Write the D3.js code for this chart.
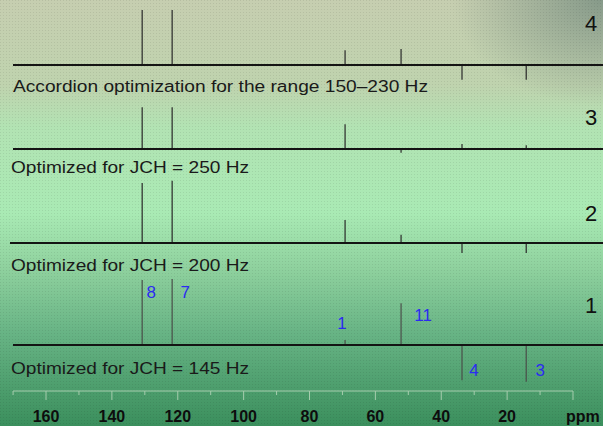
<!DOCTYPE html>
<html>
<head>
<meta charset="utf-8">
<script src="https://cdn.jsdelivr.net/npm/d3@7"></script>
<style>
  html, body { margin: 0; padding: 0; background: #9fd9a8; }
  svg { display: block; }
</style>
</head>
<body>
<div id="chart"></div>
<script>
// peak positions (ppm) and their assignment labels
const peakPpm = [130.8, 121.7, 69.2, 52.2, 33.7, 14.2];
const peakLabels = ["8", "7", "1", "11", "4", "3"];

// relative intensities per spectrum, same order as peakPpm
const spectrumIds = ["4", "3", "2", "1"];
const intensity4 = [1.0, 1.0, 0.27, 0.29, -0.27, -0.27];
const intensity3 = [0.76, 0.76, 0.45, -0.07, 0.09, 0.07];
const intensity2 = [1.09, 1.13, 0.42, 0.15, -0.18, -0.18];
const intensity1 = [1.18, 1.2, 0.09, 0.76, -0.64, -0.67];

const captions = [
  "Accordion optimization for the range 150\u2013230 Hz",
  "Optimized for JCH = 250 Hz",
  "Optimized for JCH = 200 Hz",
  "Optimized for JCH = 145 Hz"
];

const axisTicks = [170, 160, 150, 140, 130, 120, 110, 100, 90, 80, 70, 60, 50, 40, 30, 20, 10, 0];
const axisLabels = [160, 140, 120, 100, 80, 60, 40, 20];

const width = 603, height = 426;

const svg = d3.select("#chart").append("svg")
    .attr("width", width)
    .attr("height", height);

// background: scanned page look, beige on top fading to green
const defs = svg.append("defs");
const bg = defs.append("linearGradient")
    .attr("id", "bg").attr("x1", 0).attr("y1", 0).attr("x2", 0).attr("y2", 1);
[[0, "#c6ceb0"], [0.2, "#bfd3ae"], [0.3, "#b2e3b3"], [0.5, "#a9eab4"],
 [0.63, "#8fd19e"], [0.78, "#68b485"], [1, "#3b8f5d"]]
  .forEach(([o, c]) => bg.append("stop").attr("offset", o).attr("stop-color", c));

const corner = defs.append("radialGradient")
    .attr("id", "corner").attr("cx", 1).attr("cy", 0).attr("r", 0.25);
corner.append("stop").attr("offset", 0).attr("stop-color", "#7f9485").attr("stop-opacity", 0.9);
corner.append("stop").attr("offset", 1).attr("stop-color", "#7f9485").attr("stop-opacity", 0);

const dots = defs.append("pattern")
    .attr("id", "dots").attr("width", 3).attr("height", 3)
    .attr("patternUnits", "userSpaceOnUse");
dots.append("rect").attr("width", 1).attr("height", 1).attr("fill", "#000").attr("opacity", 0.08);

svg.append("rect").attr("width", width).attr("height", height).attr("fill", "url(#bg)");
svg.append("rect").attr("width", width).attr("height", height).attr("fill", "url(#corner)");
svg.append("rect").attr("width", width).attr("height", height).attr("fill", "url(#dots)");

// chemical shift scale (decreasing to the right)
const x = d3.scaleLinear().domain([160, 0]).range([46, 573]);

const panels = [
  { id: spectrumIds[0], values: intensity4, base: 65, x0: 13, capY: 92, capW: 415, numY: 31 },
  { id: spectrumIds[1], values: intensity3, base: 149, x0: 13, capY: 173, capW: 238, numY: 125 },
  { id: spectrumIds[2], values: intensity2, base: 243, x0: 10, capY: 271, capW: 238, numY: 221 },
  { id: spectrumIds[3], values: intensity1, base: 345, x0: 13, capY: 374, capW: 238, numY: 313 }
];

panels.forEach((p, i) => {
  const y = d3.scaleLinear().domain([0, 1]).range([p.base, p.base - 55]);
  const g = svg.append("g");

  g.selectAll("line.peak")
    .data(p.values)
    .join("line")
    .attr("class", "peak")
    .attr("x1", (d, j) => x(peakPpm[j]))
    .attr("x2", (d, j) => x(peakPpm[j]))
    .attr("y1", y(0))
    .attr("y2", d => y(d))
    .attr("stroke", i === 3 ? "#4a4f4a" : "#2a2a2a")
    .attr("stroke-width", 1.2);

  g.append("line")
    .attr("x1", p.x0).attr("x2", width)
    .attr("y1", p.base).attr("y2", p.base)
    .attr("stroke", "#141414")
    .attr("stroke-width", 2.2);

  g.append("text")
    .attr("x", i === 0 ? 13 : 11)
    .attr("y", p.capY)
    .attr("textLength", p.capW)
    .attr("lengthAdjust", "spacingAndGlyphs")
    .attr("font-family", "Liberation Sans, Arial, sans-serif")
    .attr("font-size", 16)
    .attr("fill", "#1a1a1a")
    .text(captions[i]);

  g.append("text")
    .attr("x", 591)
    .attr("y", p.numY)
    .attr("text-anchor", "middle")
    .attr("font-family", "Liberation Sans, Arial, sans-serif")
    .attr("font-size", 22)
    .attr("fill", "#111")
    .text(p.id);
});

// assignment labels on spectrum 1
const labelPos = [
  { dx: 9, y: 298 }, { dx: 13, y: 298 }, { dx: -3, y: 329 },
  { dx: 22, y: 321 }, { dx: 12, y: 376 }, { dx: 14, y: 376 }
];
svg.append("g").selectAll("text")
  .data(peakLabels)
  .join("text")
  .attr("x", (d, j) => x(peakPpm[j]) + labelPos[j].dx)
  .attr("y", (d, j) => labelPos[j].y)
  .attr("text-anchor", "middle")
  .attr("font-family", "Liberation Sans, Arial, sans-serif")
  .attr("font-size", 17)
  .attr("fill", "#2b2bf0")
  .text(d => d);

// ppm axis
const axisG = svg.append("g").attr("transform", "translate(0,391)");
axisG.append("line")
  .attr("x1", x(170)).attr("x2", x(0))
  .attr("stroke", "#a6cdae").attr("stroke-width", 1);
axisG.selectAll("line.tick")
  .data(axisTicks)
  .join("line")
  .attr("class", "tick")
  .attr("x1", d => x(d)).attr("x2", d => x(d))
  .attr("y1", 0)
  .attr("y2", d => d % 20 === 0 ? 9 : 4)
  .attr("stroke", "#a6cdae").attr("stroke-width", 1);
axisG.selectAll("text.lbl")
  .data(axisLabels)
  .join("text")
  .attr("class", "lbl")
  .attr("x", d => x(d))
  .attr("y", 31)
  .attr("text-anchor", "middle")
  .attr("font-family", "Liberation Sans, Arial, sans-serif")
  .attr("font-weight", "bold")
  .attr("font-size", 16)
  .attr("fill", "#0d0d0d")
  .text(d => d);
axisG.append("text")
  .attr("x", 566).attr("y", 31)
  .attr("font-family", "Liberation Sans, Arial, sans-serif")
  .attr("font-weight", "bold")
  .attr("font-size", 16)
  .attr("fill", "#0d0d0d")
  .text("ppm");
</script>
</body>
</html>
